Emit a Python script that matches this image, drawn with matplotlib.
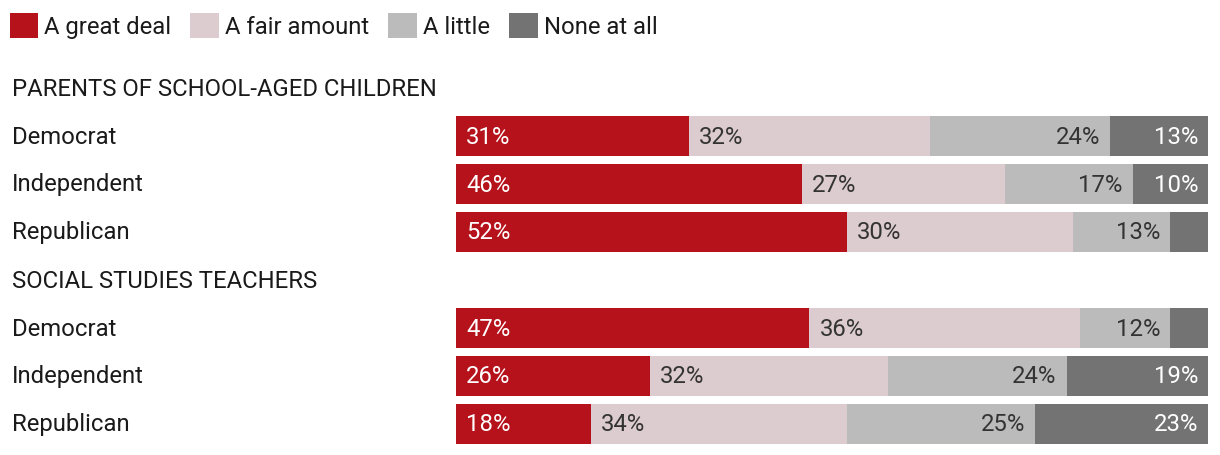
"""Trust in teaching civics by party: parents vs. social studies teachers."""

import matplotlib.pyplot as plt
import matplotlib.transforms as mtransforms
from matplotlib.patches import Patch

plt.rcParams["font.family"] = ["Roboto", "DejaVu Sans"]

# Data
categories = ["A great deal", "A fair amount", "A little", "None at all"]
colors = ["#b5121b", "#dccbcf", "#bbbbbb", "#737373"]
label_colors = ["white", "#333333", "#333333", "white"]

groups = ["PARENTS OF SCHOOL-AGED CHILDREN", "SOCIAL STUDIES TEACHERS"]
parties = ["Democrat", "Independent", "Republican"]

parents = [
    [31, 32, 24, 13],
    [46, 27, 17, 10],
    [52, 30, 13, 5],
]
teachers = [
    [47, 36, 12, 5],
    [26, 32, 24, 19],
    [18, 34, 25, 23],
]
# segments too narrow for a label
min_labeled = 8

W, H = 1220, 456
FS = 17.2
fig = plt.figure(figsize=(W / 100, H / 100), dpi=100)

# bar area: x 456..1208 px, rows from y=65 to 449 px
ax = fig.add_axes([456 / W, 7 / H, 752 / W, 384 / H])
ax.set_xlim(0, 100)
ax.set_ylim(7.5, -0.5)
ax.axis("off")

label_tr = mtransforms.blended_transform_factory(fig.transFigure, ax.transData)
pad = mtransforms.ScaledTranslation(10 / 100, 0, fig.dpi_scale_trans)

row = 0
for group, data in zip(groups, [parents, teachers]):
    ax.text(12 / W, row, group, transform=label_tr, ha="left", va="center",
            fontsize=FS, color="#1a1a1a")
    row += 1
    for party, vals in zip(parties, data):
        ax.text(12 / W, row, party, transform=label_tr, ha="left", va="center",
                fontsize=FS, color="#1a1a1a")
        total = sum(vals)
        left = 0
        for i, v in enumerate(vals):
            w = v / total * 100
            ax.barh(row, w, left=left, height=40 / 48, color=colors[i], linewidth=0)
            if v >= min_labeled:
                if i < 2:
                    ax.text(left, row, f"{v}%", ha="left", va="center",
                            fontsize=FS, color=label_colors[i],
                            transform=ax.transData + pad)
                else:
                    ax.text(left + w, row, f"{v}%", ha="right", va="center",
                            fontsize=FS, color=label_colors[i],
                            transform=ax.transData - pad)
            left += w
        row += 1

handles = [Patch(facecolor=c, edgecolor="none", label=l) for c, l in zip(colors, categories)]
fig.legend(handles=handles, loc="upper left", bbox_to_anchor=(0, 1 - 4 / H),
           ncol=4, frameon=False, fontsize=FS, handlelength=1.2, handleheight=1.25,
           handletextpad=0.25, columnspacing=0.8, borderaxespad=0, labelcolor="#1a1a1a")

fig.savefig("out.png", dpi=100)
